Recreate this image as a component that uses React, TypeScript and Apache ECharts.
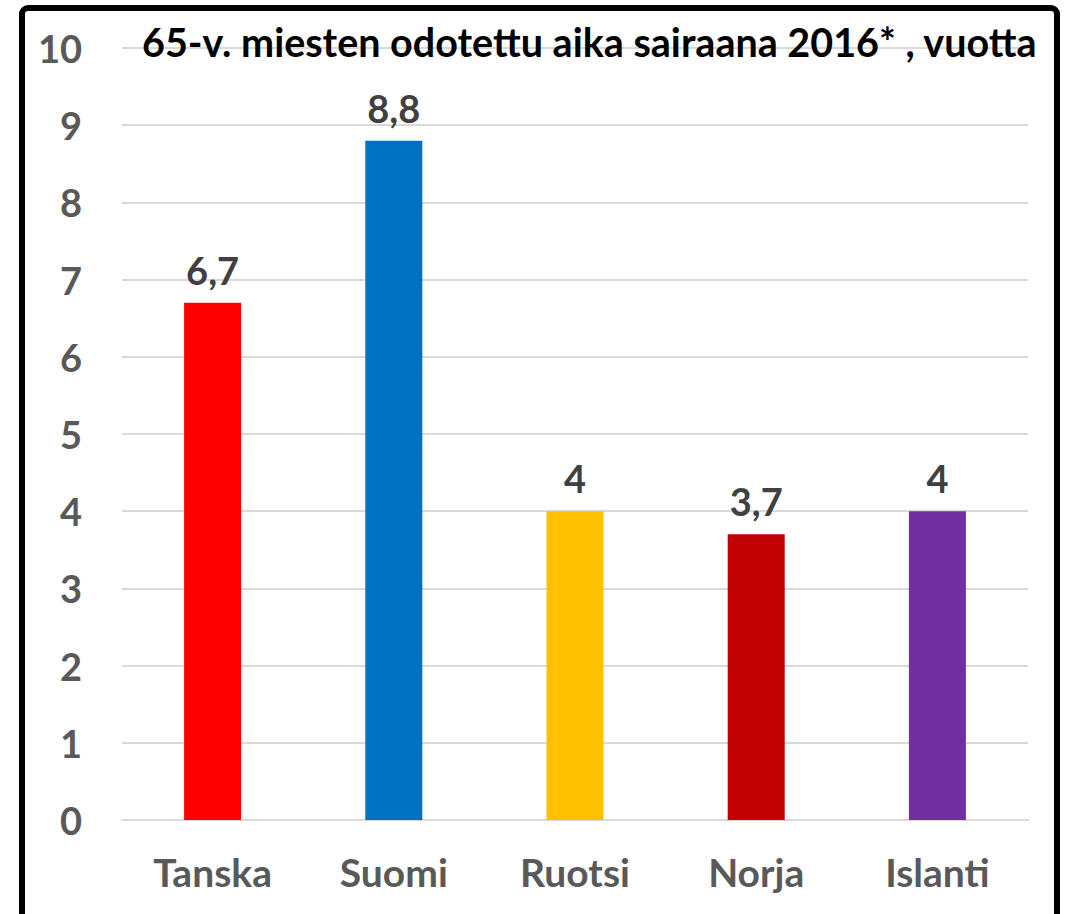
import React, { useEffect, useRef } from "react";
import * as echarts from "echarts";

const categories = ["Tanska", "Suomi", "Ruotsi", "Norja", "Islanti"];
const values = [6.7, 8.8, 4, 3.7, 4];
const barColors = ["#FF0000", "#0070C0", "#FFC000", "#C00000", "#7030A0"];
const titleText = "65-v. miesten odotettu aika sairaana 2016* , vuotta";

const FONT = "Lato, 'Open Sans', sans-serif";

export default function App() {
  const ref = useRef<HTMLDivElement>(null);
  useEffect(() => {
    if (!ref.current) return;
    const chart = echarts.init(ref.current, null, { renderer: "svg" });
    chart.setOption({
      animation: false,
      backgroundColor: "#ffffff",
      title: {
        text: titleText,
        left: 137,
        top: 16,
        textStyle: { fontFamily: FONT, fontWeight: "bold", fontSize: 39.5, color: "#000000" },
        z: 10,
      },
      grid: { left: 122, right: 43, top: 48, bottom: 94 },
      xAxis: {
        type: "category",
        data: categories,
        axisLine: { show: true, lineStyle: { color: "#D9D9D9", width: 2 } },
        axisTick: { show: false },
        axisLabel: {
          margin: 32,
          fontFamily: FONT,
          fontWeight: "bold",
          fontSize: 39,
          color: "#595959",
        },
      },
      yAxis: {
        type: "value",
        min: 0,
        max: 10,
        interval: 1,
        axisLine: { show: false },
        axisTick: { show: false },
        splitLine: { lineStyle: { color: "#D9D9D9", width: 2 } },
        axisLabel: {
          margin: 40,
          fontFamily: FONT,
          fontWeight: "bold",
          fontSize: 38,
          color: "#595959",
        },
      },
      series: [
        {
          type: "bar",
          barWidth: 57,
          data: values.map((v, i) => ({ value: v, itemStyle: { color: barColors[i] } })),
          label: {
            show: true,
            position: "top",
            distance: 14,
            fontFamily: FONT,
            fontWeight: "bold",
            fontSize: 38,
            color: "#404040",
            formatter: (p: any) => String(p.value).replace(".", ","),
          },
        },
      ],
      graphic: [
        {
          type: "rect",
          shape: { x: 22, y: 8, width: 1035, height: 1000, r: 6 },
          style: { fill: "none", stroke: "#000000", lineWidth: 6 },
          z: 100,
        },
      ],
    });
    return () => chart.dispose();
  }, []);
  return (
    <div
      ref={ref}
      style={{ position: "absolute", left: 0, top: 0, width: 1071, height: 914 }}
    />
  );
}
